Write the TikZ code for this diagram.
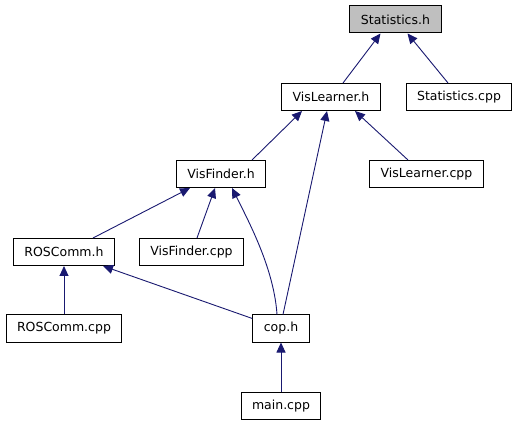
\documentclass[tikz,border=0pt]{standalone}
\usepackage{fontspec}
\setmainfont{DejaVu Sans}
\usetikzlibrary{arrows.meta,positioning}
\definecolor{edgeblue}{RGB}{25,25,112}
\definecolor{boxgray}{RGB}{191,191,191}

\begin{document}
\begin{tikzpicture}[
			x=1pt,y=-1pt,
			every node/.style={
				draw,
				line width=1pt,
				align=center,
				inner xsep=11pt,
				minimum height=27pt,
				font=\fontsize{12.5}{14}\selectfont
			},
			arrow/.style={-{Triangle[length=10pt,width=9pt]},edgeblue,line width=0.9pt}
			]
			
			\useasboundingbox (0,0) rectangle (519,427);
			
			\node[fill=boxgray] (st) at (395.5,19.5) {Statistics.h};
			\node (vl) at (331,97) {VisLearner.h};
			\node (sc) at (459,97) {Statistics.cpp};
			
			\node (vf) at (221,174) {VisFinder.h};
			\node (vlc) at (426.5,174) {VisLearner.cpp};
			
			\node (rh) at (64,252) {ROSComm.h};
			\node (vfc) at (191.5,252) {VisFinder.cpp};
			
			\node (rc) at (64,328.5) {ROSComm.cpp};
			\node (cop) at (281,328.5) {cop.h};
			
			\node (main) at (281,406) {main.cpp};
			
			\draw[arrow] ([xshift=12pt]vl.north) -- ([xshift=-15pt]st.south);
			\draw[arrow] ([xshift=-11pt]sc.north) -- ([xshift=12pt]st.south);
			
			\draw[arrow] ([xshift=31pt]vf.north) -- ([xshift=-29pt]vl.south);
			\draw[arrow] ([xshift=2pt]cop.north) -- ([xshift=-4pt]vl.south);
			\draw[arrow] ([xshift=-18.5pt]vlc.north) -- ([xshift=24pt]vl.south);
			
			\draw[arrow] ([xshift=29pt]rh.north) -- ([xshift=-31pt]vf.south);
			\draw[arrow] ([xshift=5.5pt]vfc.north) -- ([xshift=-6pt]vf.south);
			\draw[arrow] ([xshift=-4pt]cop.north) .. controls +(-3,-45) and +(18,36) .. ([xshift=11pt]vf.south);
			
			\draw[arrow] (rc) -- (rh);
			\draw[arrow] ([yshift=-4pt]cop.north west) -- ([xshift=39pt]rh.south);
			
			\draw[arrow] (main) -- (cop);
			
		\end{tikzpicture}
\end{document}
